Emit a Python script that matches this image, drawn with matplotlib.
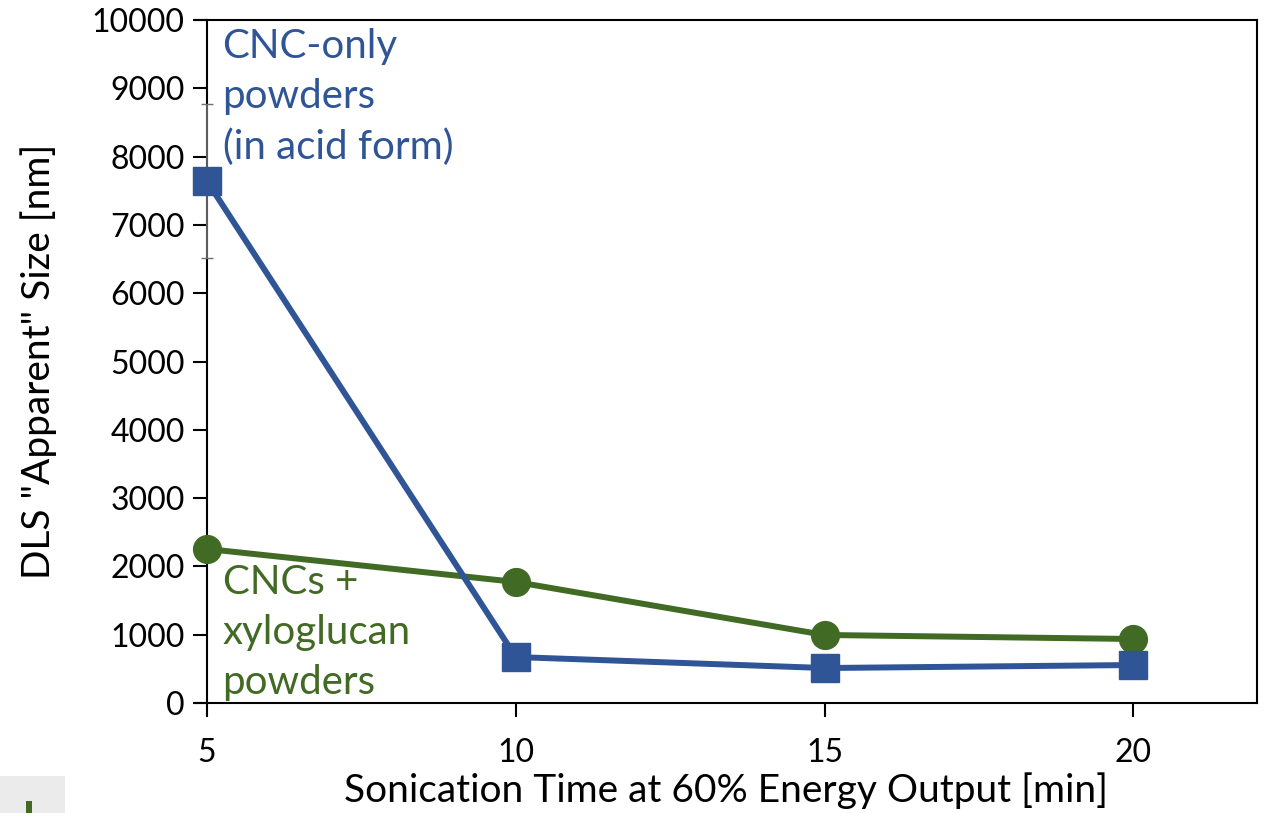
import matplotlib
matplotlib.use("Agg")
import matplotlib.pyplot as plt
from matplotlib.patches import Rectangle

plt.rcParams['font.family'] = ['Lato', 'DejaVu Sans']

# data
time_min = [5, 10, 15, 20]
cnc_only = [7640, 673, 512, 556]
cnc_only_err = [1130, 0, 0, 0]
cnc_xg = [2255, 1772, 996, 937]

blue = '#2F5597'
green = '#416A24'

fig = plt.figure(figsize=(12.68, 8.13), dpi=100)
ax = fig.add_axes([0.1538, 0.1353, 0.9913 - 0.1538, 0.9754 - 0.1353])

ax.errorbar(time_min[:1], cnc_only[:1], yerr=cnc_only_err[:1], fmt='none',
            ecolor='#707070', elinewidth=1.2, capsize=4, zorder=3, clip_on=False)
ax.plot(time_min, cnc_xg, color=green, lw=4.3, marker='o', ms=20, zorder=4, clip_on=False)
ax.plot(time_min, cnc_only, color=blue, lw=4.3, marker='s', ms=20, zorder=5, clip_on=False)

ax.set_xlim(4.805, 22.0)
ax.set_ylim(0, 10000)
ax.set_xticks(time_min)
ax.set_yticks(range(0, 10001, 1000))

ax.spines['left'].set_position(('data', 5))
for s in ax.spines.values():
    s.set_linewidth(1.5)
ax.tick_params(axis='both', direction='out', length=10, width=1.5, labelsize=23)
ax.tick_params(axis='x', pad=15)
ax.tick_params(axis='y', pad=6)

ax.set_xlabel('Sonication Time at 60% Energy Output [min]', fontsize=28, labelpad=3)
ax.set_ylabel('DLS "Apparent" Size [nm]', fontsize=28)
ax.yaxis.set_label_coords(-0.13, 0.5)

ax.text(5.25, 9880, 'CNC-only\npowders\n(in acid form)', color=blue, fontsize=29,
        va='top', ha='left', linespacing=1.43)
ax.text(5.25, 2030, 'CNCs +\nxyloglucan\npowders', color=green, fontsize=29,
        va='top', ha='left', linespacing=1.43)

# stray box in the lower-left corner
fig.patches.append(Rectangle((0, 0), 65 / 1268, 37 / 813, transform=fig.transFigure,
                             facecolor='#EBEBEB', edgecolor='none'))
fig.patches.append(Rectangle((26 / 1268, 0), 6 / 1268, 12 / 813, transform=fig.transFigure,
                             facecolor=green, edgecolor='none'))

fig.savefig('out.png', dpi=100)
